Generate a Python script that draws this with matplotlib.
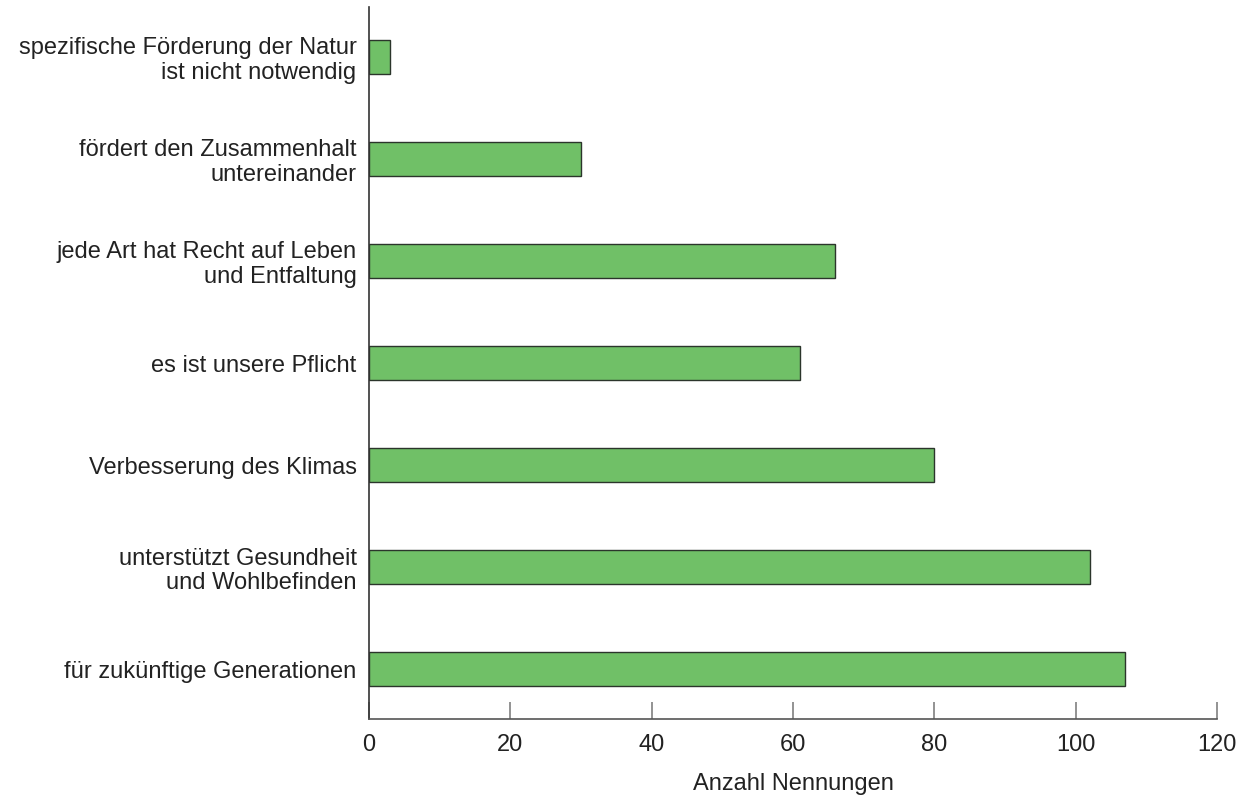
import numpy as np
import matplotlib.pyplot as plt

# Daten (von unten nach oben)
kategorien = [
    "für zukünftige Generationen",
    "unterstützt Gesundheit\nund Wohlbefinden",
    "Verbesserung des Klimas",
    "es ist unsere Pflicht",
    "jede Art hat Recht auf Leben\nund Entfaltung",
    "fördert den Zusammenhalt\nuntereinander",
    "spezifische Förderung der Natur\nist nicht notwendig",
]
nennungen = [107, 102, 80, 61, 66, 30, 3]
x_ticks = [0, 20, 40, 60, 80, 100, 120]

plt.rcParams["font.family"] = ["Liberation Sans", "DejaVu Sans"]

fig = plt.figure(figsize=(12.4, 7.98), dpi=100)
ax = fig.add_axes([369 / 1240, 1 - 719 / 798, (1217 - 369) / 1240, (719 - 7) / 798])

y = np.arange(len(kategorien))
ax.barh(y, nennungen, height=0.34, color="#70c067", edgecolor="#2b352b", linewidth=1.0)

ax.set_xlim(0, 120)
ax.set_ylim(-0.49, 6.49)
ax.set_yticks(y)
ax.set_yticklabels(kategorien, fontsize=17, color="#222222", linespacing=1.15)
ax.tick_params(axis="y", length=0, pad=9)

ax.set_xticks(x_ticks)
ax.set_xticklabels([str(t) for t in x_ticks], fontsize=17, color="#222222")
ax.tick_params(axis="x", direction="in", length=12, width=1.2, color="#808080", pad=11)

ax.spines["top"].set_visible(False)
ax.spines["right"].set_visible(False)
ax.spines["left"].set_color("#333333")
ax.spines["bottom"].set_color("#555555")
ax.spines["left"].set_linewidth(1.2)
ax.spines["bottom"].set_linewidth(1.2)

ax.set_xlabel("Anzahl Nennungen", fontsize=17, color="#222222", labelpad=12)

fig.savefig("out.png", dpi=100)
